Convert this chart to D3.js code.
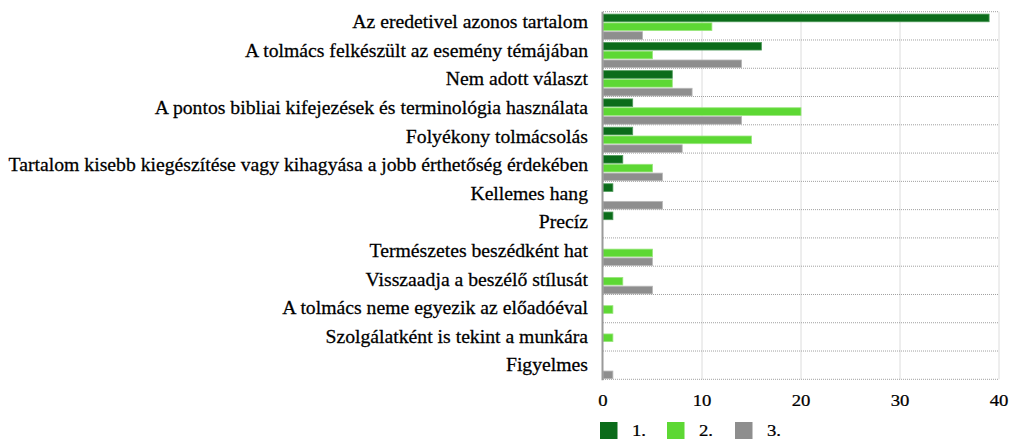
<!DOCTYPE html>
<html><head><meta charset="utf-8">
<script src="https://cdn.jsdelivr.net/npm/d3@7"></script>
<style>body{margin:0;background:#fff}svg{display:block}</style>
</head><body>
<svg id="c" width="1010" height="439"></svg>
<script>
const categories = [
 "Az eredetivel azonos tartalom",
 "A tolmács felkészült az esemény témájában",
 "Nem adott választ",
 "A pontos bibliai kifejezések és terminológia használata",
 "Folyékony tolmácsolás",
 "Tartalom kisebb kiegészítése vagy kihagyása a jobb érthetőség érdekében",
 "Kellemes hang",
 "Precíz",
 "Természetes beszédként hat",
 "Visszaadja a beszélő stílusát",
 "A tolmács neme egyezik az előadóéval",
 "Szolgálatként is tekint a munkára",
 "Figyelmes"
];
const seriesNames = ["1.", "2.", "3."];
const series1 = [39, 16, 7, 3, 3, 2, 1, 1, 0, 0, 0, 0, 0];
const series2 = [11, 5, 7, 20, 15, 5, 0, 0, 5, 2, 1, 1, 0];
const series3 = [4, 14, 9, 14, 8, 6, 6, 0, 5, 5, 0, 0, 1];
const xTicks = [0, 10, 20, 30, 40];
const colors = ["#0b6c1a", "#5dd834", "#8e8e8e"];
const strokes = ["#4f9a5a", "#9ae67e", "#b8b8b8"];
const FONT = "'Liberation Serif', 'Times New Roman', serif";

const svg = d3.select("#c");
const x = d3.scaleLinear().domain([0, 40]).range([603, 999]);
const y = d3.scaleBand().domain(categories).range([11.7, 379.3]).padding(0);
const inner = d3.scaleBand().domain(seriesNames).range([2.4, y.bandwidth() - 0.6]).paddingInner(0.13);
const yLab = d3.scalePoint().domain(categories).range([22, 365]);

const g = svg.append("g");
g.selectAll(".vg").data(xTicks.slice(1)).join("line")
 .attr("x1", d => x(d)).attr("x2", d => x(d))
 .attr("y1", y.range()[0]).attr("y2", y.range()[1])
 .attr("stroke", "#dcdcdc").attr("stroke-width", 1);
const seps = categories.map(c => y(c)).concat([y.range()[1]]);
g.selectAll(".hg").data(seps).join("line")
 .attr("x1", x(0)).attr("x2", x(40))
 .attr("y1", d => d).attr("y2", d => d)
 .attr("stroke", "#a0a0a0").attr("stroke-width", 1).attr("stroke-dasharray", "1,1");

const data = [series1, series2, series3];
data.forEach((vals, si) => {
  g.selectAll(".b" + si).data(vals.map((v, i) => ({v, c: categories[i]})).filter(d => d.v > 0)).join("rect")
   .attr("x", x(0))
   .attr("y", d => y(d.c) + inner(seriesNames[si]))
   .attr("width", d => x(d.v) - x(0))
   .attr("height", inner.bandwidth())
   .attr("fill", colors[si])
   .attr("stroke", strokes[si]).attr("stroke-width", 0.8);
});

g.append("line").attr("x1", x(0) - 0.5).attr("x2", x(0) - 0.5)
 .attr("y1", y.range()[0]).attr("y2", y.range()[1] + 1)
 .attr("stroke", "#9a9a9a").attr("stroke-width", 2);

const lab = svg.append("g").attr("transform", "translate(588,0) scale(1.095,1)");
lab.selectAll("text").data(categories).join("text")
 .attr("x", 0).attr("y", d => yLab(d)).attr("dy", "0.35em")
 .attr("text-anchor", "end")
 .style("font-family", FONT).style("font-size", "18px")
 .attr("fill", "#000").attr("stroke", "#000").attr("stroke-width", 0.25)
 .text(d => d);

const xa = svg.append("g");
xa.selectAll("text").data(xTicks).join("text")
 .attr("transform", d => `translate(${x(d)},406) scale(1.1,1)`)
 .attr("text-anchor", "middle")
 .style("font-family", FONT).style("font-size", "17px")
 .attr("fill", "#000").attr("stroke", "#000").attr("stroke-width", 0.25)
 .text(d3.format("d"));

const legX = [600, 667, 735];
const lg = svg.append("g");
seriesNames.forEach((n, i) => {
  lg.append("rect").attr("x", legX[i]).attr("y", 422).attr("width", 17.5).attr("height", 17.5).attr("fill", colors[i]);
  lg.append("text").attr("transform", `translate(${legX[i] + 32},436) scale(1.1,1)`).text(n)
    .style("font-family", FONT).style("font-size", "17px")
    .attr("fill", "#000").attr("stroke", "#000").attr("stroke-width", 0.25);
});
</script>
</body></html>
